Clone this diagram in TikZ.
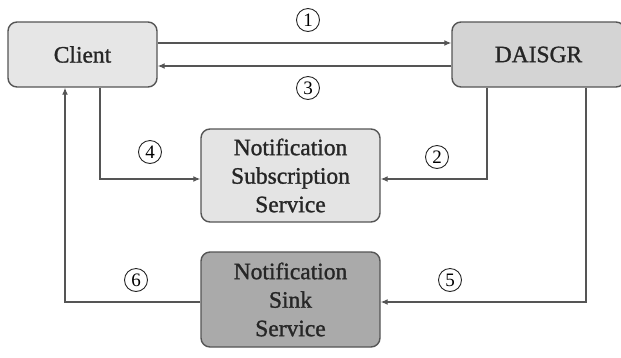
\documentclass[tikz,border=0pt]{standalone}
\usepackage{fontspec}
\setmainfont{Liberation Serif}
\newfontfamily\boxfont[FakeBold=1.2]{Liberation Serif}
\usetikzlibrary{arrows.meta}
\definecolor{linec}{HTML}{555555}
\definecolor{clientfill}{HTML}{E6E6E6}
\definecolor{daisfill}{HTML}{D4D4D4}
\definecolor{nssfill}{HTML}{E4E4E4}
\definecolor{sinkfill}{HTML}{AAAAAA}
\tikzset{
  box/.style={draw=linec, line width=1.4pt, rounded corners=9pt, inner sep=0pt, align=center,
    font=\boxfont\fontsize{23.5}{28.5}\selectfont, text=black!85},
  conn/.style={draw=linec, line width=1.3pt, -{Latex[length=7pt,width=6pt]}},
  num/.style={circle, draw=black!85, line width=0.9pt, inner sep=0pt, minimum size=23pt,
    font=\fontsize{19}{19}\selectfont}
}
\begin{document}
\begin{tikzpicture}[x=1pt,y=-1pt]
\useasboundingbox (0,0) rectangle (621,357);
\begin{scope}
\clip (0,0) rectangle (621,357);
\node[box, fill=clientfill, minimum width=149pt, minimum height=65pt] (client) at (82.5,54.5) {Client};
\node[box, fill=daisfill, minimum width=173pt, minimum height=65pt] (dais) at (538.5,54.5) {DAISGR};
\node[box, fill=nssfill, minimum width=179pt, minimum height=93pt] (nss) at (290.5,175.5) {Notification\\Subscription\\Service};
\node[box, fill=sinkfill, minimum width=179pt, minimum height=95pt] (sink) at (290.5,299.5) {Notification\\Sink\\Service};
\end{scope}
\draw[conn] (client.east |- 0,43) -- (dais.west |- 0,43);
\draw[conn] (dais.west |- 0,66) -- (client.east |- 0,66);
\draw[conn] (client.south -| 100,0) |- (nss.west |- 0,179);
\draw[conn] (dais.south -| 487,0) |- (nss.east |- 0,179);
\draw[conn] (dais.south -| 586,0) |- (sink.east |- 0,302);
\draw[conn] (sink.west |- 0,302) -| (client.south -| 65,0);
\node[num] (n1) at (308,20) {1};
\node[num] (n3) at (308,88) {3};
\node[num] (n4) at (150,152) {4};
\node[num] (n2) at (437,157) {2};
\node[num] (n5) at (450,280) {5};
\node[num] (n6) at (136,280) {6};
\end{tikzpicture}
\end{document}
